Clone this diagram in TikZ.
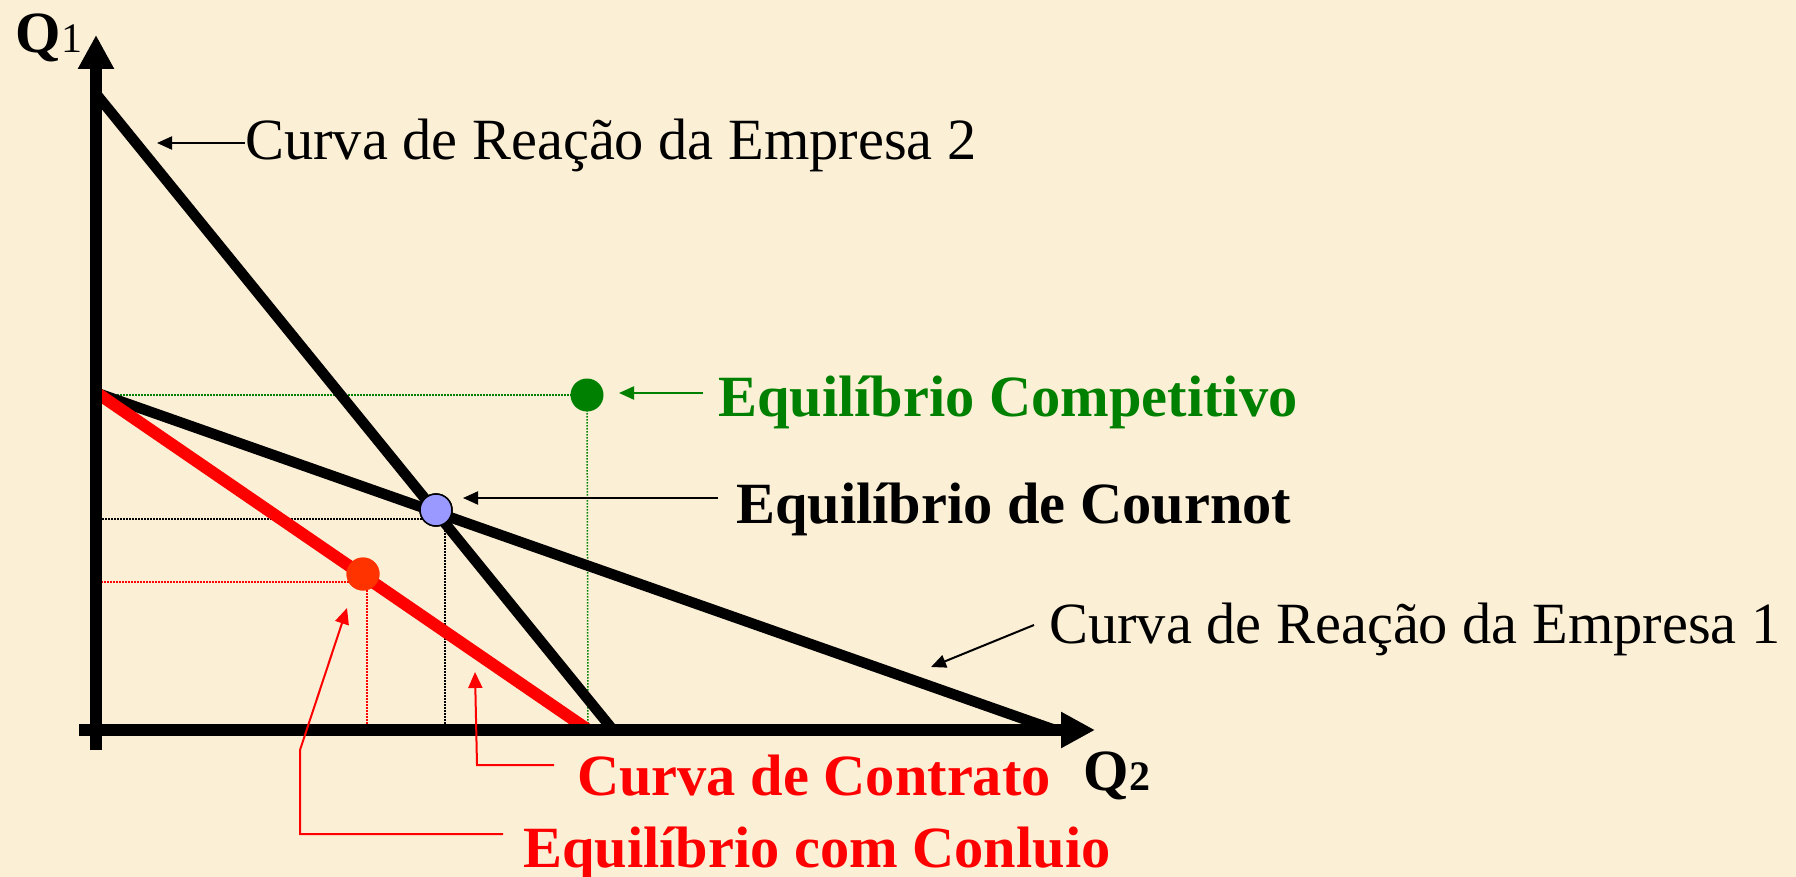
\documentclass[tikz,border=0pt]{standalone}
\usepackage{fontspec}
\setmainfont{Liberation Serif}
\usetikzlibrary{arrows.meta}
\definecolor{bg}{RGB}{251,239,214}
\definecolor{eqgreen}{RGB}{0,128,0}
\definecolor{cournotfill}{RGB}{153,153,255}
\definecolor{collred}{RGB}{255,51,0}
\begin{document}
\begin{tikzpicture}[x=1pt,y=-1pt,
  lbl/.style={inner sep=0pt, anchor=base west, font=\fontsize{58.4}{70}\selectfont},
  blbl/.style={lbl, font=\fontsize{58.4}{70}\selectfont\bfseries},
  sublbl/.style={inner sep=0pt, anchor=base west, font=\fontsize{42}{42}\selectfont},
  axisline/.style={line width=12pt, -{Triangle[length=34pt,width=34pt]}},
  curve/.style={line width=10.5pt},
  guide/.style={line width=1.5pt, dash pattern=on 1.5pt off 1.5pt},
  pointer/.style={line width=2pt, -{Triangle[length=15pt,width=13pt]}},
  redpointer/.style={pointer, draw=red, -{Triangle[length=16pt,width=14pt]}},
  dot/.style={circle, inner sep=0pt, minimum size=33pt},
]
\fill[bg] (0,0) rectangle (1796,877);
\useasboundingbox (0,0) rectangle (1796,877);

% key coordinates
\coordinate (ybot) at (96,750);
\coordinate (ytop) at (96,35);
\coordinate (xleft) at (79,730);
\coordinate (xright) at (1095,730);
\coordinate (r2a) at (97,95);
\coordinate (r2b) at (613,730);
\coordinate (r1a) at (97,393);
\coordinate (r1b) at (1055,730);
\coordinate (cca) at (97,393);
\coordinate (ccb) at (587,729);

% points
\node[dot, fill=eqgreen] (comp) at (587,395) {};
\node[dot, fill=collred] (coll) at (363,574) {};
\node[dot, draw=black, line width=1.5pt, fill=cournotfill, minimum size=32pt] (cour) at (436,510) {};

% guide lines
\draw[guide, eqgreen] (102,395) -- (comp.center);
\draw[guide, eqgreen] (comp.center) -- (588,724);
\draw[guide, black] (102,519) -- (430,519);
\draw[guide, black] (445,524) -- (445,724);
\draw[guide, red] (98,582) -- (350,582);
\draw[guide, red] (367,590) -- (367,727);

% curves
\draw[curve] (r2a) -- (r2b);
\draw[curve] (r1a) -- (r1b);
\draw[curve, red, line width=12pt] (cca) -- (ccb);

% axes
\draw[axisline] (ybot) -- (ytop);
\draw[axisline] (xleft) -- (xright);

% redraw points on top
\node[dot, fill=collred] at (coll) {};
\node[dot, draw=black, line width=1.5pt, fill=cournotfill, minimum size=32pt] at (cour) {};

% axis labels
\node[blbl] (q1) at (15,53) {Q};
\node[sublbl] (q1s) at (q1.base east) {1};
\node[blbl] (q2) at (1083,790) {Q};
\node[sublbl, font=\fontsize{42}{42}\selectfont\bfseries] (q2s) at (q2.base east) {2};

% labels
\node[lbl] (lab2) at (245,160) {Curva de Reação da Empresa 2};
\node[lbl] (lab1) at (1049,643) {Curva de Reação da Empresa 1};
\node[blbl, text=eqgreen] (complab) at (718,416) {Equilíbrio Competitivo};
\node[blbl] (courlab) at (736,523) {Equilíbrio de Cournot};
\node[blbl, text=red] (contlab) at (577,795) {Curva de Contrato};
\node[blbl, text=red] (colllab) at (523,867) {Equilíbrio com Conluio};

% pointer targets
\coordinate (t2) at (157,143);
\coordinate (t1) at (931,667);
\coordinate (tcomp) at (619,393);
\coordinate (tcour) at (463,498);
\coordinate (tcont) at (475,672);
\coordinate (tcoll) at (347,608);
\coordinate (bcont) at (477,765);
\coordinate (bcoll1) at (300,834);
\coordinate (bcoll2) at (300,750);

% pointers
\draw[pointer] ([yshift=17pt]lab2.base west) -- (t2);
\draw[pointer] ([xshift=-15pt,yshift=18pt]lab1.base west) -- (t1);
\draw[pointer, eqgreen] ([xshift=-15pt,yshift=23pt]complab.base west) -- (tcomp);
\draw[pointer] ([xshift=-18pt,yshift=25pt]courlab.base west) -- (tcour);
\draw[redpointer] ([xshift=-23pt,yshift=30pt]contlab.base west) -- (bcont) -- (tcont);
\draw[redpointer] ([xshift=-20pt,yshift=33pt]colllab.base west) -- (bcoll1) -- (bcoll2) -- (tcoll);
\end{tikzpicture}
\end{document}
